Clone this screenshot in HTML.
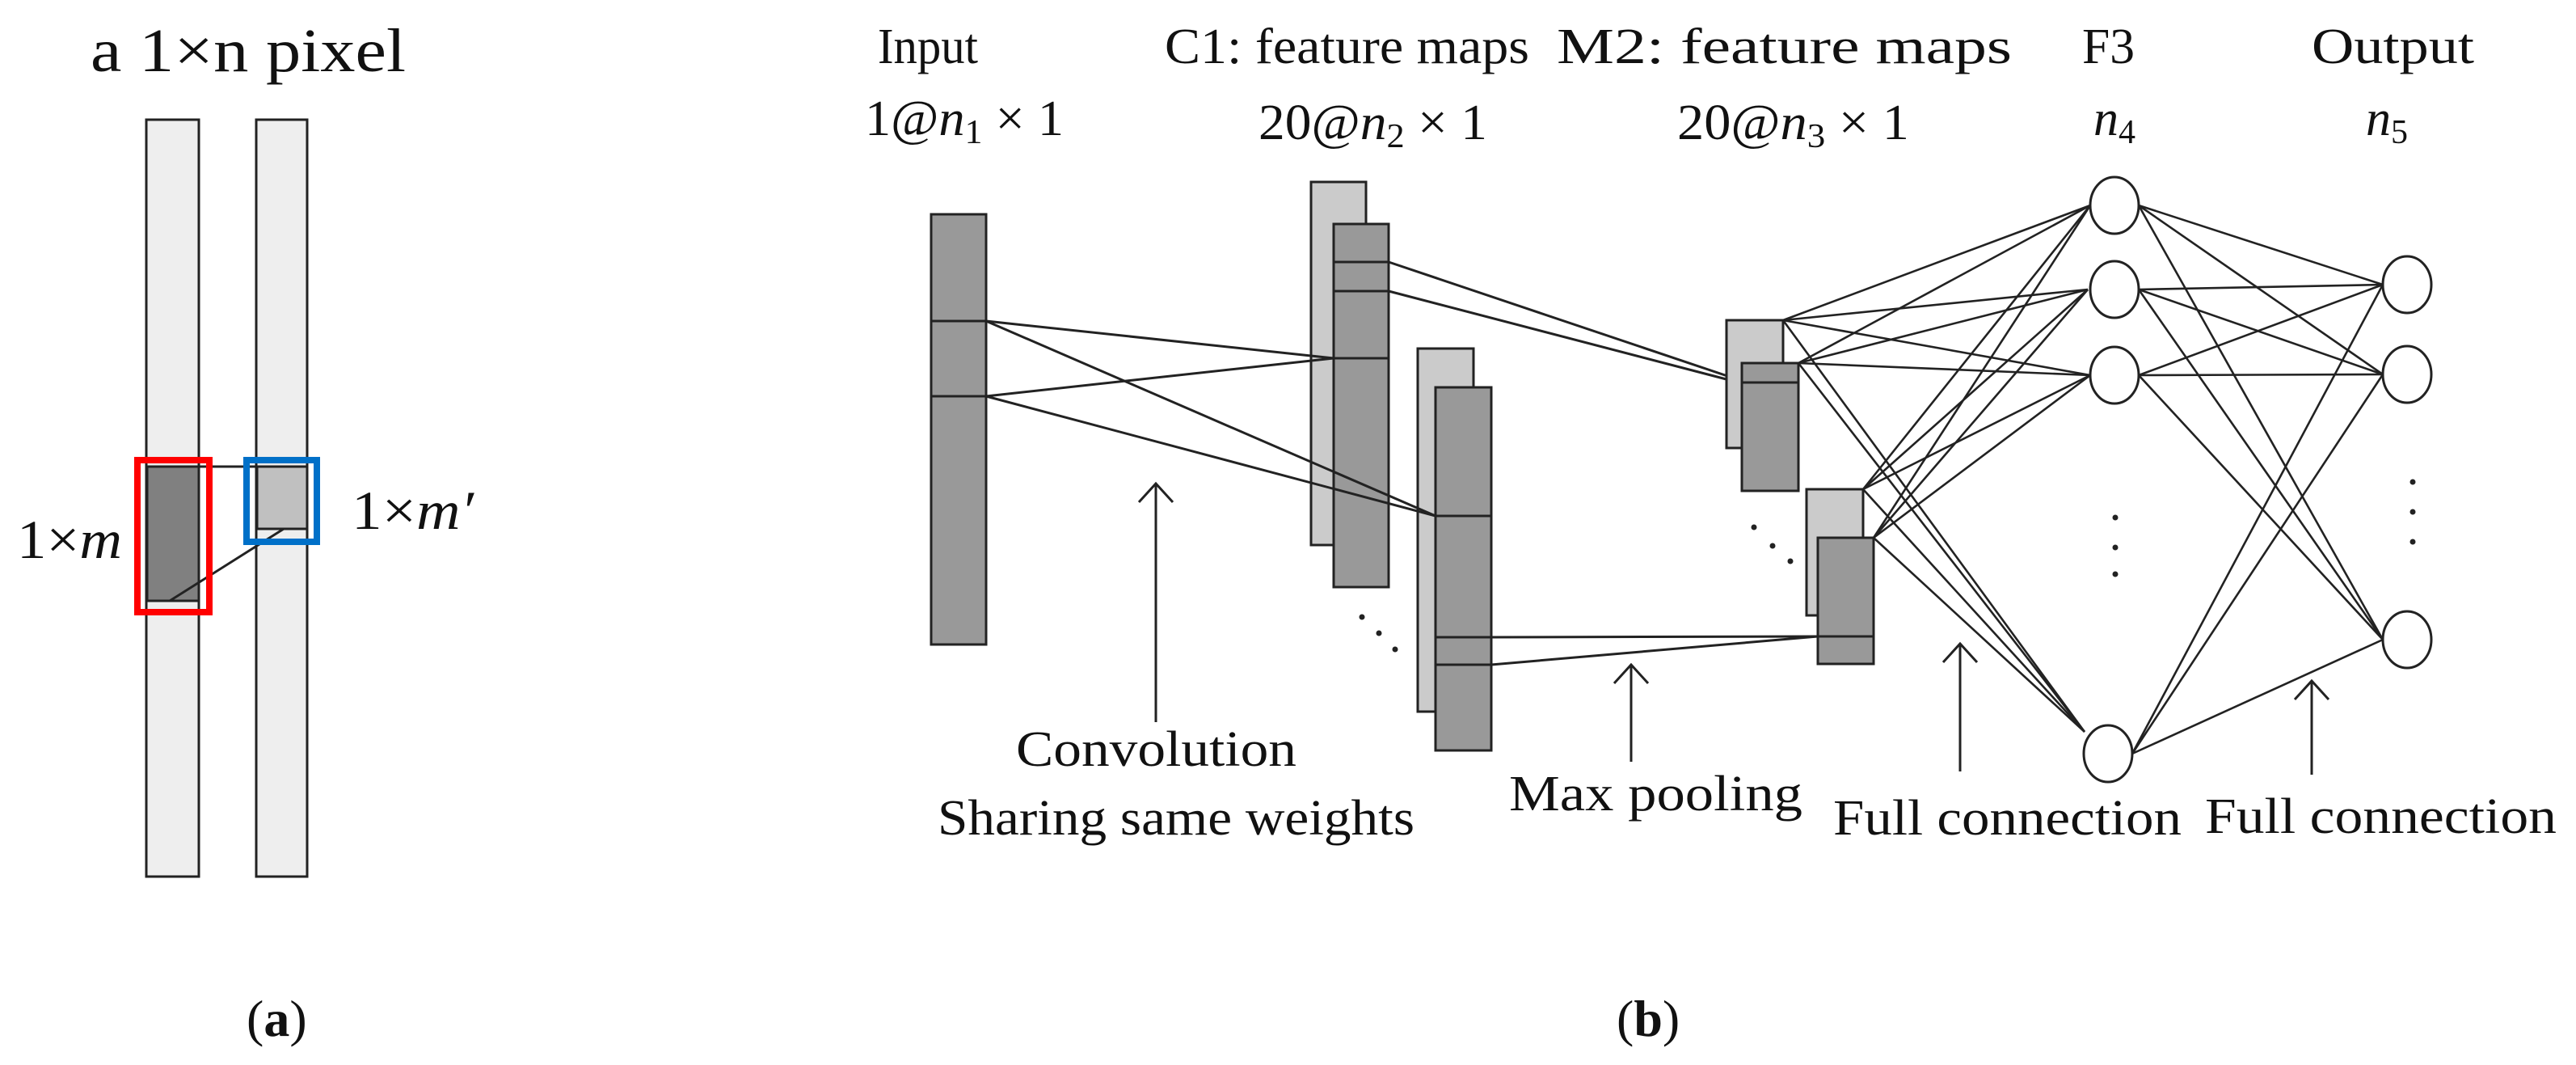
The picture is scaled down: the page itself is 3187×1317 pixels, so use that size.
<!DOCTYPE html>
<html><head><meta charset="utf-8"><style>
html,body{margin:0;padding:0;background:#fff;width:3187px;height:1317px;overflow:hidden}
svg{display:block}
text{font-family:"Liberation Serif",serif;fill:#111}
</style></head><body>
<svg width="3187" height="1317" viewBox="0 0 3187 1317" xmlns="http://www.w3.org/2000/svg">
<g stroke="#222" stroke-width="3">
<rect x="181" y="148" width="65" height="936" fill="#eeeeee"/>
<rect x="317" y="148" width="63" height="936" fill="#eeeeee"/>
<rect x="182" y="577" width="64" height="166" fill="#808080"/>
<rect x="318" y="577" width="62" height="77" fill="#c0c0c0"/>
<line x1="246" y1="577" x2="318" y2="577"/>
<line x1="210" y1="743" x2="351" y2="654"/>
</g>
<rect x="170" y="569" width="89" height="188" fill="none" stroke="#ff0000" stroke-width="8"/>
<rect x="305" y="569" width="87" height="101" fill="none" stroke="#0070c8" stroke-width="8"/>
<text x="112" y="88" font-size="76" textLength="390" lengthAdjust="spacingAndGlyphs">a 1×n pixel</text>
<text x="21" y="690" font-size="68" textLength="130" lengthAdjust="spacingAndGlyphs">1×<tspan font-style="italic">m</tspan></text>
<text x="435" y="654" font-size="68" textLength="151" lengthAdjust="spacingAndGlyphs">1×<tspan font-style="italic">m′</tspan></text>
<text x="305" y="1281" font-size="64">(<tspan font-weight="bold">a</tspan>)</text>

<g stroke="#222" stroke-width="3">
<rect x="1152" y="265" width="68" height="532" fill="#999999"/>
<line x1="1152" y1="397" x2="1220" y2="397"/><line x1="1152" y1="490" x2="1220" y2="490"/>
<rect x="1622" y="225" width="68" height="449" fill="#cbcbcb"/>
<rect x="1650" y="277" width="68" height="449" fill="#999999"/>
<line x1="1650" y1="324" x2="1718" y2="324"/><line x1="1650" y1="360" x2="1718" y2="360"/><line x1="1650" y1="443" x2="1718" y2="443"/>
<rect x="1754" y="431" width="69" height="449" fill="#cbcbcb"/>
<rect x="1776" y="479" width="69" height="449" fill="#999999"/>
<line x1="1776" y1="638" x2="1845" y2="638"/><line x1="1776" y1="788" x2="1845" y2="788"/><line x1="1776" y1="822" x2="1845" y2="822"/>
<line x1="1220" y1="397" x2="1650" y2="443"/><line x1="1220" y1="397" x2="1776" y2="638"/>
<line x1="1220" y1="490" x2="1650" y2="443"/><line x1="1220" y1="490" x2="1776" y2="638"/>
<line x1="1718" y1="324" x2="2155" y2="471"/><line x1="1718" y1="360" x2="2155" y2="474"/>
<rect x="2136" y="396" width="70" height="158" fill="#cbcbcb"/>
<rect x="2155" y="449" width="70" height="158" fill="#999999"/>
<line x1="2155" y1="473" x2="2225" y2="473"/>
<rect x="2235" y="605" width="70" height="156" fill="#cbcbcb"/>
<rect x="2249" y="665" width="69" height="156" fill="#999999"/>
<line x1="2249" y1="787" x2="2318" y2="787"/>
<line x1="1845" y1="788" x2="2249" y2="787"/><line x1="1845" y1="822" x2="2249" y2="787"/>
<g stroke-width="2.6">
<line x1="2206" y1="396" x2="2586" y2="254"/><line x1="2206" y1="396" x2="2583" y2="358"/><line x1="2206" y1="396" x2="2586" y2="464"/><line x1="2206" y1="396" x2="2579" y2="905"/>
<line x1="2225" y1="449" x2="2586" y2="254"/><line x1="2225" y1="449" x2="2583" y2="358"/><line x1="2225" y1="449" x2="2586" y2="464"/><line x1="2225" y1="449" x2="2579" y2="905"/>
<line x1="2305" y1="605" x2="2586" y2="254"/><line x1="2305" y1="605" x2="2583" y2="358"/><line x1="2305" y1="605" x2="2586" y2="464"/><line x1="2305" y1="605" x2="2579" y2="905"/>
<line x1="2318" y1="665" x2="2586" y2="254"/><line x1="2318" y1="665" x2="2583" y2="358"/><line x1="2318" y1="665" x2="2586" y2="464"/><line x1="2318" y1="665" x2="2579" y2="905"/>
<line x1="2646" y1="254" x2="2948" y2="352"/><line x1="2646" y1="254" x2="2948" y2="463"/><line x1="2646" y1="254" x2="2948" y2="791"/>
<line x1="2646" y1="358" x2="2948" y2="352"/><line x1="2646" y1="358" x2="2948" y2="463"/><line x1="2646" y1="358" x2="2948" y2="791"/>
<line x1="2646" y1="464" x2="2948" y2="352"/><line x1="2646" y1="464" x2="2948" y2="463"/><line x1="2646" y1="464" x2="2948" y2="791"/>
<line x1="2638" y1="932" x2="2948" y2="352"/><line x1="2638" y1="932" x2="2948" y2="463"/><line x1="2638" y1="932" x2="2948" y2="791"/>
</g>
<g fill="#fff">
<ellipse cx="2616" cy="254" rx="30" ry="35"/><ellipse cx="2616" cy="358" rx="30" ry="35"/><ellipse cx="2616" cy="464" rx="30" ry="35"/><ellipse cx="2608" cy="932" rx="30" ry="35"/>
<ellipse cx="2978" cy="352" rx="30" ry="35"/><ellipse cx="2978" cy="463" rx="30" ry="35"/><ellipse cx="2978" cy="791" rx="30" ry="35"/>
</g>
<g fill="none">
<line x1="1430" y1="893" x2="1430" y2="598"/><polyline points="1409,621 1430,598 1451,621"/>
<line x1="2018" y1="942" x2="2018" y2="822"/><polyline points="1997,845 2018,822 2039,845"/>
<line x1="2425" y1="954" x2="2425" y2="796"/><polyline points="2404,819 2425,796 2446,819"/>
<line x1="2860" y1="958" x2="2860" y2="842"/><polyline points="2839,865 2860,842 2881,865"/>
</g>
</g>
<g fill="#222">
<circle cx="1685" cy="763" r="3.5"/><circle cx="1706" cy="783" r="3.5"/><circle cx="1726" cy="803" r="3.5"/>
<circle cx="2170" cy="652" r="3.5"/><circle cx="2193" cy="675" r="3.5"/><circle cx="2215" cy="694" r="3.5"/>
<circle cx="2617" cy="640" r="3.5"/><circle cx="2617" cy="677" r="3.5"/><circle cx="2617" cy="710" r="3.5"/>
<circle cx="2985" cy="596" r="3.5"/><circle cx="2985" cy="633" r="3.5"/><circle cx="2985" cy="670" r="3.5"/>
</g>
<g font-size="62">
<text x="1086" y="78" textLength="124" lengthAdjust="spacingAndGlyphs">Input</text>
<text x="1070" y="167" textLength="246" lengthAdjust="spacingAndGlyphs">1@<tspan font-style="italic">n</tspan><tspan font-size="42" dy="10">1</tspan><tspan dy="-10"> × 1</tspan></text>
<text x="1441" y="78" textLength="451" lengthAdjust="spacingAndGlyphs">C1: feature maps</text>
<text x="1557" y="172" textLength="283" lengthAdjust="spacingAndGlyphs">20@<tspan font-style="italic">n</tspan><tspan font-size="42" dy="10">2</tspan><tspan dy="-10"> × 1</tspan></text>
<text x="1926" y="78" textLength="563" lengthAdjust="spacingAndGlyphs">M2: feature maps</text>
<text x="2075" y="172" textLength="287" lengthAdjust="spacingAndGlyphs">20@<tspan font-style="italic">n</tspan><tspan font-size="42" dy="10">3</tspan><tspan dy="-10"> × 1</tspan></text>
<text x="2576" y="78" textLength="65" lengthAdjust="spacingAndGlyphs">F3</text>
<text x="2590" y="167" font-style="italic">n<tspan font-size="42" font-style="normal" dy="10">4</tspan></text>
<text x="2860" y="78" textLength="201" lengthAdjust="spacingAndGlyphs">Output</text>
<text x="2927" y="167" font-style="italic">n<tspan font-size="42" font-style="normal" dy="10">5</tspan></text>
<text x="1257" y="947" textLength="347" lengthAdjust="spacingAndGlyphs">Convolution</text>
<text x="1160" y="1032" textLength="590" lengthAdjust="spacingAndGlyphs">Sharing same weights</text>
<text x="1867" y="1002" textLength="363" lengthAdjust="spacingAndGlyphs">Max pooling</text>
<text x="2268" y="1032" textLength="431" lengthAdjust="spacingAndGlyphs">Full connection</text>
<text x="2728" y="1030" textLength="435" lengthAdjust="spacingAndGlyphs">Full connection</text>
</g>
<text x="2000" y="1281" font-size="64">(<tspan font-weight="bold">b</tspan>)</text>
</svg>
</body></html>
